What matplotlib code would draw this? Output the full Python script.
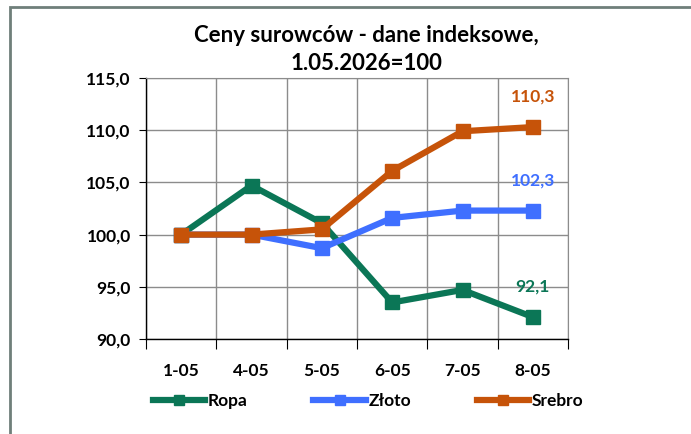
import matplotlib.pyplot as plt
from matplotlib.patches import Rectangle

plt.rcParams['font.family'] = ['Lato', 'DejaVu Sans']

# data
dates = ["1-05", "4-05", "5-05", "6-05", "7-05", "8-05"]
ropa = [100.0, 104.7, 101.1, 93.5, 94.7, 92.1]
zloto = [100.0, 100.0, 98.7, 101.6, 102.3, 102.3]
srebro = [100.0, 100.0, 100.5, 106.1, 109.9, 110.3]

green = '#0B7656'
blue = '#3F6FFF'
orange = '#C65309'

fig = plt.figure(figsize=(6.91, 4.34), dpi=100)
ax = fig.add_axes([146 / 691, 1 - 339 / 434, 422 / 691, 261 / 434])

x = range(len(dates))
series = [("Ropa", ropa, green), ("Złoto", zloto, blue), ("Srebro", srebro, orange)]
for name, vals, col in series:
    ax.plot(x, vals, color=col, linewidth=4.5, marker='s', markersize=9.5,
            label=name, solid_joinstyle='miter')

# end labels
for name, vals, col in series:
    ax.annotate(f"{vals[-1]:.1f}".replace('.', ','), (5, vals[-1]),
                xytext=(0, 22), textcoords='offset points', color=col,
                fontsize=12.5, fontweight='bold', ha='center', va='center')

ax.set_xlim(-0.5, 5.5)
ax.set_ylim(90, 115)
yt = [90, 95, 100, 105, 110, 115]
ax.set_yticks(yt)
ax.set_yticklabels([f"{v:.1f}".replace('.', ',') for v in yt])
ax.set_xticks([i - 0.5 for i in range(7)])
ax.set_xticklabels([])
ax.set_xticks(list(x), minor=True)
ax.set_xticklabels(dates, minor=True)
ax.tick_params(axis='x', which='major', length=7, direction='out', color='black')
ax.tick_params(axis='x', which='minor', length=0, pad=17)
ax.tick_params(axis='y', length=5, pad=6)
for lab in ax.get_xticklabels(minor=True) + ax.get_yticklabels():
    lab.set_fontweight('bold')
    lab.set_fontsize(12.5)

ax.grid(True, which='major', color='#8c8c8c', linewidth=1)
ax.set_axisbelow(True)
for s in ['top', 'right']:
    ax.spines[s].set_color('#8c8c8c')
for s in ['left', 'bottom']:
    ax.spines[s].set_color('black')
    ax.spines[s].set_linewidth(1)

fig.text(366 / 691, 1 - 36 / 434, "Ceny surowców - dane indeksowe,", ha='center',
         va='center', fontsize=16, fontweight='bold')
fig.text(366 / 691, 1 - 64 / 434, "1.05.2026=100", ha='center',
         va='center', fontsize=16, fontweight='bold')

fig.legend(loc='center', bbox_to_anchor=(368 / 691, 1 - 401 / 434), ncol=3,
           frameon=False, handlelength=3.0, handletextpad=0.15, columnspacing=3.8,
           markerscale=0.8, prop={'weight': 'bold', 'size': 12.5})

fig.patches.append(Rectangle((10 / 691, -0.1), 1.2, 1 - 7 / 434 + 0.1,
                             transform=fig.transFigure, fill=False,
                             edgecolor='#6f7f7a', linewidth=2))

fig.savefig('out.png', dpi=100)
